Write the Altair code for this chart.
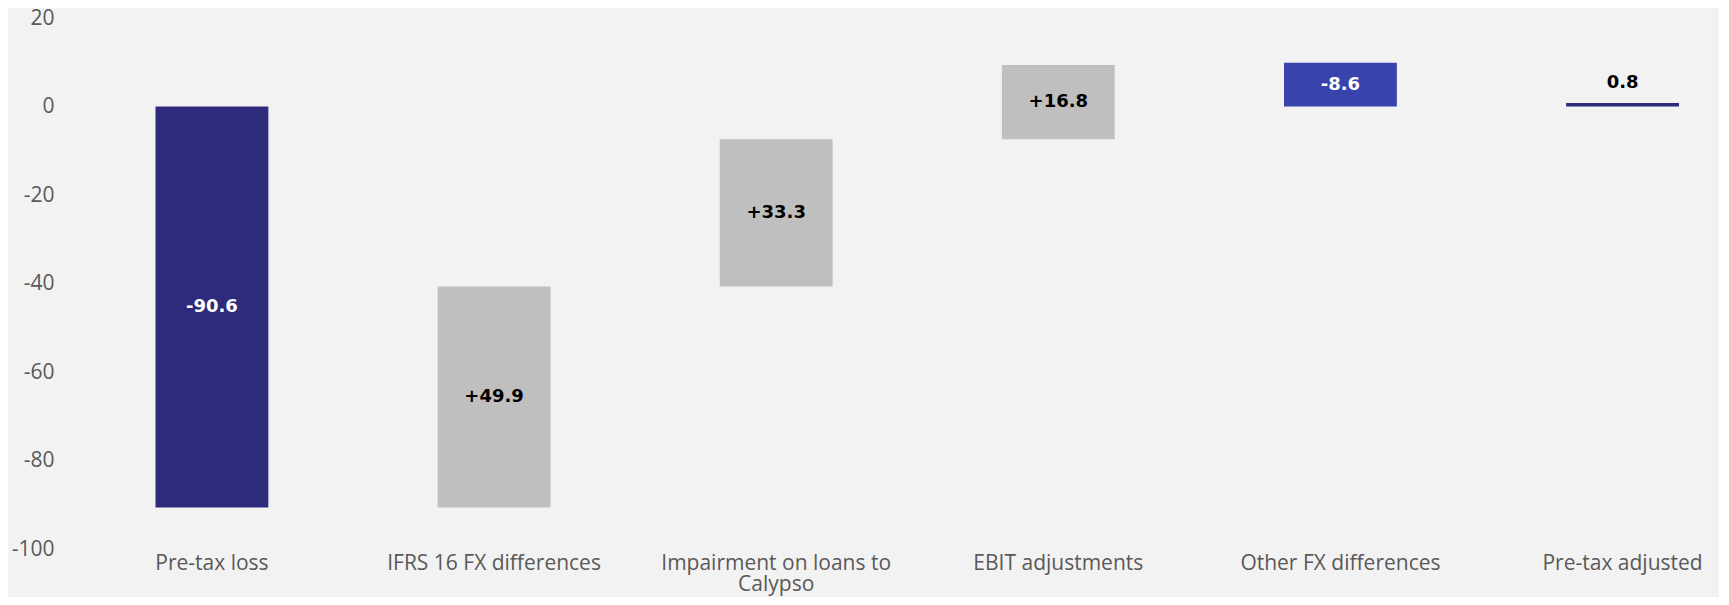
import altair as alt
import pandas as pd

categories = ["Pre-tax loss", "IFRS 16 FX differences", "Impairment on loans to Calypso",
              "EBIT adjustments", "Other FX differences", "Pre-tax adjusted"]
amounts = [-90.6, 49.9, 33.3, 16.8, -8.6, 0.8]
labels = ["-90.6", "+49.9", "+33.3", "+16.8", "-8.6", "0.8"]
# bar extents as drawn in the reference (low / high end of each floating bar)
bar_low = [-90.6, -90.6, -40.7, -7.4, 0.0, 0.0]
bar_high = [0.0, -40.7, -7.4, 9.4, 9.9, 0.8]
kinds = ["total", "delta", "delta", "delta", "delta", "total"]
y_ticks = [20, 0, -20, -40, -60, -80, -100]

rows = []
for cat, amt, lab, kind, lo, hi in zip(categories, amounts, labels, kinds, bar_low, bar_high):
    if kind == "total":
        group = "total"
    else:
        group = "increase" if amt >= 0 else "decrease"
    rows.append(dict(category=cat, low=lo, high=hi, mid=(lo + hi) / 2,
                     top=max(lo, hi), label=lab, group=group,
                     inside=abs(hi - lo) >= 4))
df = pd.DataFrame(rows)

FONT = "Open Sans"
BOLD_FONT = "DejaVu Sans"
x_scale = alt.Scale(domain=categories, paddingInner=0.6, paddingOuter=0.2295, align=0.722)
x_enc = alt.X("category:N", scale=x_scale, sort=categories, title=None,
              axis=alt.Axis(labelAngle=0, domain=False, ticks=False, labelPadding=3,
                            labelFont=FONT, labelFontSize=21, labelColor="#595959",
                            labelLineHeight=21, labelLimit=400,
                            labelExpr="datum.value == 'Impairment on loans to Calypso' ? ['Impairment on loans to', 'Calypso'] : datum.value"))
y_scale = alt.Scale(domain=[-100, 20], nice=False, zero=False)

base = alt.Chart(df)

bars = base.mark_bar().encode(
    x=x_enc,
    y=alt.Y("low:Q", scale=y_scale, title=None,
            axis=alt.Axis(values=y_ticks, grid=False, domain=False, ticks=False,
                          labelPadding=8, labelFont=FONT, labelFontSize=21,
                          labelColor="#595959", labelExpr="'' + datum.value")),
    y2="high:Q",
    color=alt.Color("group:N", legend=None,
                    scale=alt.Scale(domain=["total", "increase", "decrease"],
                                    range=["#2e2a7c", "#bfbfbf", "#3843ab"])),
)

inside = base.transform_filter("datum.inside").mark_text(
    font=BOLD_FONT, fontSize=18, fontWeight="bold", baseline="middle").encode(
    x=alt.X("category:N", scale=x_scale, sort=categories),
    y=alt.Y("mid:Q", scale=y_scale),
    text="label:N",
    color=alt.Color("group:N", legend=None,
                    scale=alt.Scale(domain=["total", "increase", "decrease"],
                                    range=["#ffffff", "#000000", "#ffffff"])),
)

outside = base.transform_filter("!datum.inside").mark_text(
    font=BOLD_FONT, fontSize=18, fontWeight="bold", baseline="middle", dy=-20,
    color="#000000").encode(
    x=alt.X("category:N", scale=x_scale, sort=categories),
    y=alt.Y("top:Q", scale=y_scale),
    text="label:N",
)

chart = alt.layer(bars, inside, outside).resolve_scale(color="independent").properties(
    width=1653, height=531,
    autosize=alt.AutoSizeParams(type="none"),
    padding={"left": 54, "top": 10, "right": 4, "bottom": 48},
    background="#f2f2f2",
).configure_view(stroke=None)

chart.save("out.html", embed_options={"renderer": "svg", "actions": False})
